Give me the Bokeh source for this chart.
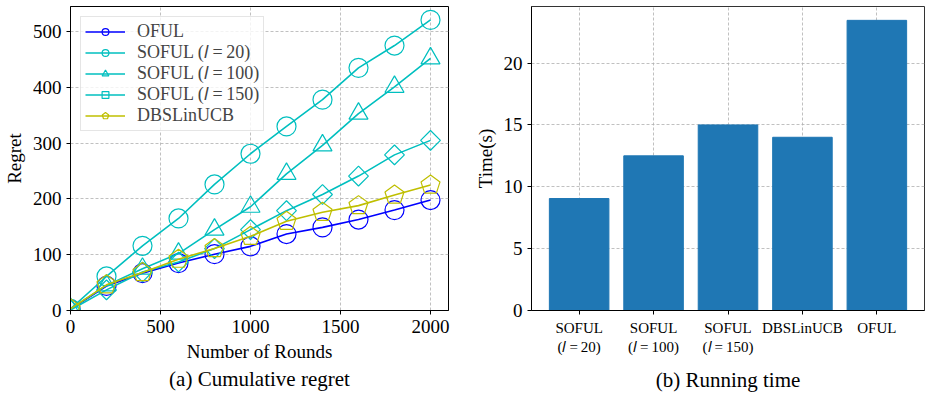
from bokeh.plotting import figure
from bokeh.models import Range1d, FixedTicker, Legend, LegendItem, LinearAxis
from bokeh.layouts import row
from bokeh.embed import file_html
from bokeh.resources import INLINE
import math

# ---- data: cumulative regret ----
rounds = [0, 200, 400, 600, 800, 1000, 1200, 1400, 1600, 1800, 2000]
oful = [2, 44, 67, 85, 101, 115, 137, 149, 163, 180, 198]
soful20 = [3, 61, 116, 165, 226, 281, 330, 378, 435, 475, 521]
soful100 = [3, 45, 75, 102, 145, 186, 245, 296, 353, 401, 452]
soful150 = [1, 37, 69, 87, 111, 145, 179, 208, 241, 279, 305]
dbslinucb = [3, 46, 68, 92, 111, 133, 160, 176, 188, 207, 225]

# ---- data: running time ----
methods = ["SOFUL\n(𝑙\u2009=\u200920)", "SOFUL\n(𝑙\u2009=\u2009100)", "SOFUL\n(𝑙\u2009=\u2009150)", "DBSLinUCB", "OFUL"]
times = [9.05, 12.5, 15.0, 14.0, 23.45]

SERIF = "Liberation Serif"
GRID = "#b0b0b0"

def style(p):
    p.outline_line_color = "black"
    p.outline_line_width = 1
    for ax in (p.xaxis, p.yaxis):
        ax.axis_line_color = "black"
        ax.major_tick_line_color = "black"
        ax.major_tick_out = 4
        ax.major_tick_in = 0
        ax.minor_tick_line_color = None
        ax.major_label_text_font = SERIF
        ax.major_label_text_font_size = "19px"
        ax.major_label_text_color = "black"
        ax.axis_label_text_font = SERIF
        ax.axis_label_text_font_size = "19px"
        ax.axis_label_text_font_style = "normal"
        ax.axis_label_text_color = "black"
    for g in (p.xgrid, p.ygrid):
        g.grid_line_color = GRID
        g.grid_line_dash = "3 2"
        g.grid_line_width = 0.8

def caption(p, text, standoff):
    ax = LinearAxis(ticker=FixedTicker(ticks=[]), axis_label=text)
    ax.axis_line_color = None
    ax.major_tick_line_color = None
    ax.minor_tick_line_color = None
    ax.major_label_text_font_size = "0px"
    ax.major_tick_out = 0
    ax.major_label_standoff = 0
    ax.axis_label_standoff = standoff
    ax.axis_label_text_font = SERIF
    ax.axis_label_text_font_size = "21px"
    ax.axis_label_text_font_style = "normal"
    ax.axis_label_text_color = "black"
    p.add_layout(ax, "below")

# ---------- left figure ----------
p1 = figure(width=465, height=396, output_backend="svg", toolbar_location=None,
            x_range=Range1d(0, 2100), y_range=Range1d(0, 545),
            min_border_left=63, min_border_right=17, min_border_top=6, min_border_bottom=86)
style(p1)
p1.xaxis.ticker = FixedTicker(ticks=[0, 500, 1000, 1500, 2000])
p1.yaxis.ticker = FixedTicker(ticks=[0, 100, 200, 300, 400, 500])
p1.xaxis.axis_label = "Number of Rounds"
p1.yaxis.axis_label = "Regret"

series = [
    ("OFUL", oful, "#0000ff", "circle"),
    ("SOFUL (𝑙\u2009=\u200920)", soful20, "#00bfbf", "circle"),
    ("SOFUL (𝑙\u2009=\u2009100)", soful100, "#00bfbf", "triangle"),
    ("SOFUL (𝑙\u2009=\u2009150)", soful150, "#00bfbf", "square"),
    ("DBSLinUCB", dbslinucb, "#bfbf00", "pentagon"),
]
items = []
for name, ys, col, mk in series:
    l = p1.line(rounds, ys, line_color=col, line_width=1.6)
    if mk == "pentagon":
        s = p1.ngon(x=rounds, y=ys, radius=10, radius_units="screen", n=5,
                    line_color=col, fill_color=None, line_width=1.2)
    elif mk == "square":
        s = p1.scatter(rounds, ys, marker="square", size=14, angle=math.pi / 4,
                       line_color=col, fill_color=None, line_width=1.2)
    else:
        s = p1.scatter(rounds, ys, marker=mk, size=19,
                       line_color=col, fill_color=None, line_width=1.2)
    items.append(LegendItem(label=name, renderers=[l, s]))

leg = Legend(items=items)
leg.location = "top_left"
leg.margin = 10
leg.label_text_font = SERIF
leg.label_text_font_size = "18px"
leg.label_height = 17
leg.glyph_height = 17
leg.glyph_width = 40
leg.spacing = 0
leg.padding = 4
leg.label_standoff = 12
leg.border_line_color = "#cccccc"
leg.background_fill_alpha = 0.8
p1.add_layout(leg)
caption(p1, "(a) Cumulative regret", 2)

# ---------- right figure ----------
xs = list(range(len(methods)))
p2 = figure(width=461, height=396, output_backend="svg", toolbar_location=None,
            x_range=Range1d(-0.64, 4.64), y_range=Range1d(0, 24.57),
            min_border_left=66, min_border_right=2, min_border_top=6, min_border_bottom=86)
style(p2)
p2.vbar(x=xs, top=times, width=0.8, color="#1f77b4")
p2.xaxis.ticker = FixedTicker(ticks=xs)
p2.xaxis.major_label_overrides = {i: m for i, m in zip(xs, methods)}
p2.xaxis.major_label_text_font_size = "15px"
p2.yaxis.ticker = FixedTicker(ticks=[0, 5, 10, 15, 20])
p2.yaxis.axis_label = "Time(s)"
p2.outline_line_color = "#333333"
caption(p2, "(b) Running time", 10)

layout = row(p1, p2)
open("out.html", "w").write(file_html(layout, INLINE))
